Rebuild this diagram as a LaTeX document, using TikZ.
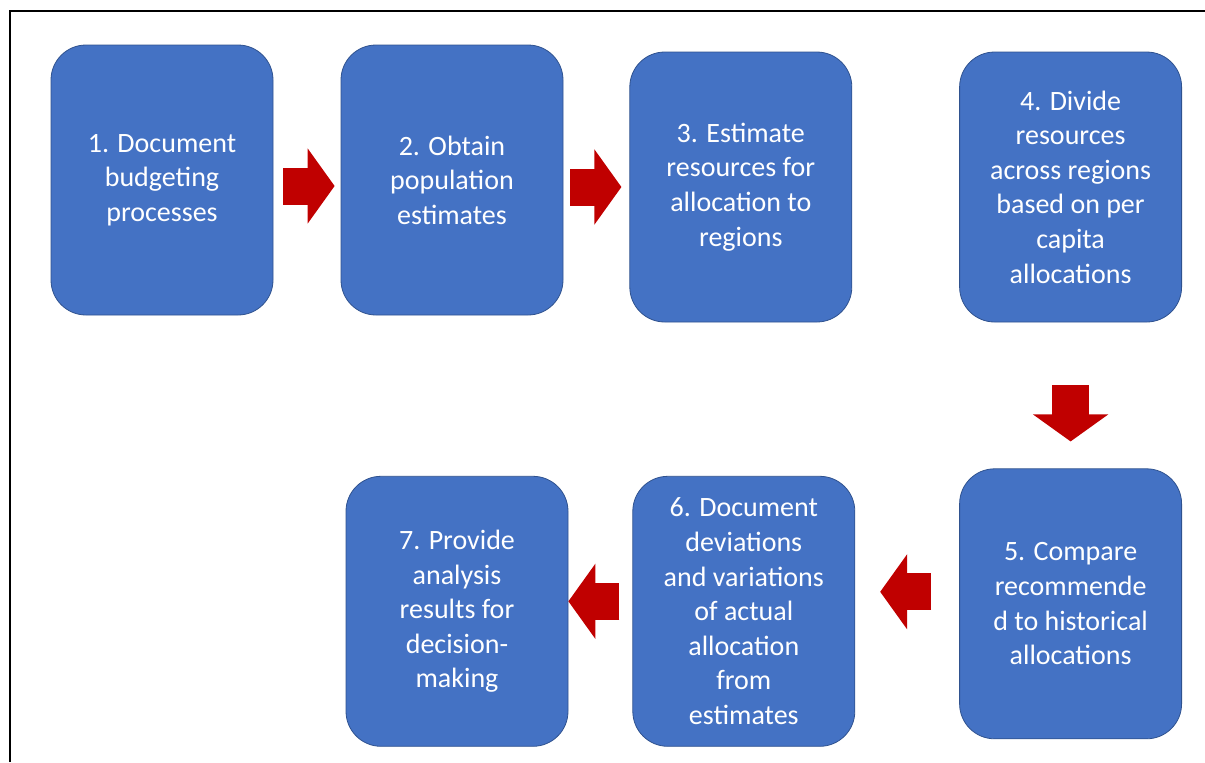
\documentclass[tikz,border=0pt]{standalone}
\usepackage{fontspec}
\setmainfont{Carlito}
\usetikzlibrary{positioning,arrows.meta}
\definecolor{boxblue}{HTML}{4472C4}
\definecolor{boxedge}{HTML}{2F528F}
\definecolor{arrowred}{HTML}{C00000}
\tikzstyle{block} =
        [
                rectangle,
                draw = boxedge,
                fill = boxblue,
                text = white,
                align = center,
                rounded corners = 17.5pt,
                minimum width = 111pt,
                minimum height = 135pt,
                font = \fontsize{14}{17.3}\selectfont
        ]
\tikzstyle{line} =
        [
                line width = 18.5pt,
                draw = arrowred,
                -{Triangle[width = 37.5pt, length = 13.5pt, line width = 1pt]}
        ]
\begin{document}
\begin{tikzpicture}
    \useasboundingbox (0,0) rectangle (602.5pt,-381pt);
    % frame
    \draw [line width = 1pt] (4.75pt,-381pt) -- (4.75pt,-5.5pt) -- (602.5pt,-5.5pt);

    \node [block] at (81pt,-90pt) (budget) {1. Document\\budgeting\\processes};
    \node [block, right = 33.6pt of budget] (population) {2. Obtain\\population\\estimates};
    \node [block, right = 33pt of population, yshift = -3.5pt] (resources) {3. Estimate\\resources for\\allocation to\\regions};
    \node [block, right = 53.5pt of resources] (divide) {4. Divide\\resources\\across regions\\based on per\\capita\\allocations};
    \node [block, below = 73pt of divide] (compare) {5. Compare\\recommende\\d to historical\\allocations};
    \node [block, left = 52pt of compare, yshift = -3.75pt] (deviations) {6. Document\\deviations\\and variations\\of actual\\allocation\\from\\estimates};
    \node [block, left = 32pt of deviations] (analysis) {7. Provide\\analysis\\results for\\decision-\\making};

     \path [line, shorten < = 5pt, shorten > = 3pt] ([yshift = -3pt]budget.east) -- ([yshift = -3pt]population.west);
     \path [line, shorten < = 3.5pt, shorten > = 4pt] (population.east |- resources.west) -- (resources.west);
     \path [line, shorten < = 31.5pt, shorten > = 13.5pt] (divide) -- (compare);
     \path [line, shorten < = 14pt, shorten > = 12.5pt] ([yshift = 6pt]compare.west) -- ([yshift = 6pt]compare.west -| deviations.east);
     \path [line, shorten < = 6.5pt] ([yshift = 5pt]deviations.west) -- ([yshift = 5pt]deviations.west -| analysis.east);
\end{tikzpicture}
\end{document}
